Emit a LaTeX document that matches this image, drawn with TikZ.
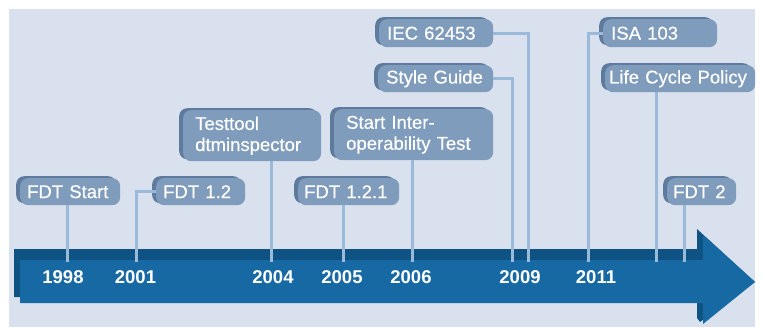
\documentclass[tikz,border=0pt]{standalone}
\usepackage{fontspec}
\setmainfont{Liberation Sans}
\newfontfamily\evfont[FakeBold=0.4]{Liberation Sans}
\usetikzlibrary{shadows,calc}
\definecolor{bgblue}{HTML}{D9E1EE}
\definecolor{arrowfront}{HTML}{1769A3}
\definecolor{arrowdark}{HTML}{0E5384}
\definecolor{boxface}{HTML}{7F9CBC}
\definecolor{boxedge}{HTML}{5E7B9D}
\definecolor{linkblue}{HTML}{9BBAD9}
\def\tickend{262}
\def\yearline{277}
\tikzset{
  event/.style={
    rectangle,
    rounded corners=8pt,
    fill=boxface,
    text=white,
    font=\evfont\fontsize{18.5}{21}\selectfont,
    anchor=north west,
    align=left,
    inner xsep=8pt,
    inner ysep=0pt,
    minimum height=27pt,
    text width=#1,
    general shadow={fill=boxedge, shadow xshift=-4pt, shadow yshift=2pt},
  },
  twoline/.style={inner xsep=12pt, minimum height=51pt},
  year/.style={
    text=white,
    inner sep=0pt,
    font=\fontsize{18.5}{20}\selectfont\bfseries
  },
  link/.style={draw=linkblue, line width=3pt},
}

\begin{document}
\begin{tikzpicture}[x=1pt, y=-1pt]
    \useasboundingbox (0,0) rectangle (763,327);
    \fill[bgblue] (9,9) rectangle (755,327);

    %% Time arrow
    \fill[arrowdark] (14,249) -- (697,249) -- (697,229) -- (755,282) -- (700,322)
      -- (697,318) -- (697,297) -- (14,297) -- cycle;
    \fill[arrowfront] (20,260) -- (703,260) -- (703,235) -- (755,282) -- (703,324)
      -- (703,303) -- (20,303) -- cycle;

    %% Years
    \foreach \yr/\xx in {1998/63, 2001/135.5, 2004/273, 2005/342, 2006/411, 2009/520, 2011/596}
      \node[year] (y\yr) at (\xx,\yearline) {\yr};

    %% Ticks on the arrow
    \coordinate (tstart) at (67,\tickend);
    \coordinate (tonetwo) at (136,\tickend);
    \coordinate (ttool) at (271,\tickend);
    \coordinate (tonetwoone) at (343,\tickend);
    \coordinate (tinterop) at (412,\tickend);
    \coordinate (tstyle) at (512,\tickend);
    \coordinate (tiec) at (528,\tickend);
    \coordinate (tisa) at (588,\tickend);
    \coordinate (tlife) at (656,\tickend);
    \coordinate (ttwo) at (684,\tickend);

    %% Events
    \node[event=86pt, inner xsep=7pt] (fdtstart) at (20,178) {FDT Start};
    \node[event=75pt, inner xsep=7pt] (fdtonetwo) at (156,178) {FDT 1.2};
    \node[event=114pt, twoline] (testtool) at (183,110) {Testtool\\dtminspector};
    \node[event=89pt, inner xsep=6pt] (fdtonetwoone) at (298,178) {FDT 1.2.1};
    \node[event=135pt, twoline] (interop) at (334,109) {Start Inter-\\operability Test};
    \node[event=98pt, minimum height=28pt] (iec) at (379,19) {IEC 62453};
    \node[event=99pt] (styleguide) at (378,65) {Style Guide};
    \node[event=98pt, minimum height=28pt] (isa) at (603,19) {ISA 103};
    \node[event=142pt, inner xsep=4pt] (lifecycle) at (605,65) {Life Cycle Policy};
    \node[event=57pt, inner xsep=6pt] (fdttwo) at (667,178) {FDT 2};

    %% Connectors
    \draw[link] (fdtstart.south -| tstart) -- (tstart);
    \draw[link] (fdtonetwo.west) -| (tonetwo);
    \draw[link] (testtool.south -| ttool) -- (ttool);
    \draw[link] (fdtonetwoone.south -| tonetwoone) -- (tonetwoone);
    \draw[link] (interop.south -| tinterop) -- (tinterop);
    \draw[link] (styleguide.east) -| (tstyle);
    \draw[link] (iec.east) -| (tiec);
    \draw[link] (isa.west) -| (tisa);
    \draw[link] (lifecycle.south -| tlife) -- (tlife);
    \draw[link] (fdttwo.south -| ttwo) -- (ttwo);
\end{tikzpicture}
\end{document}
